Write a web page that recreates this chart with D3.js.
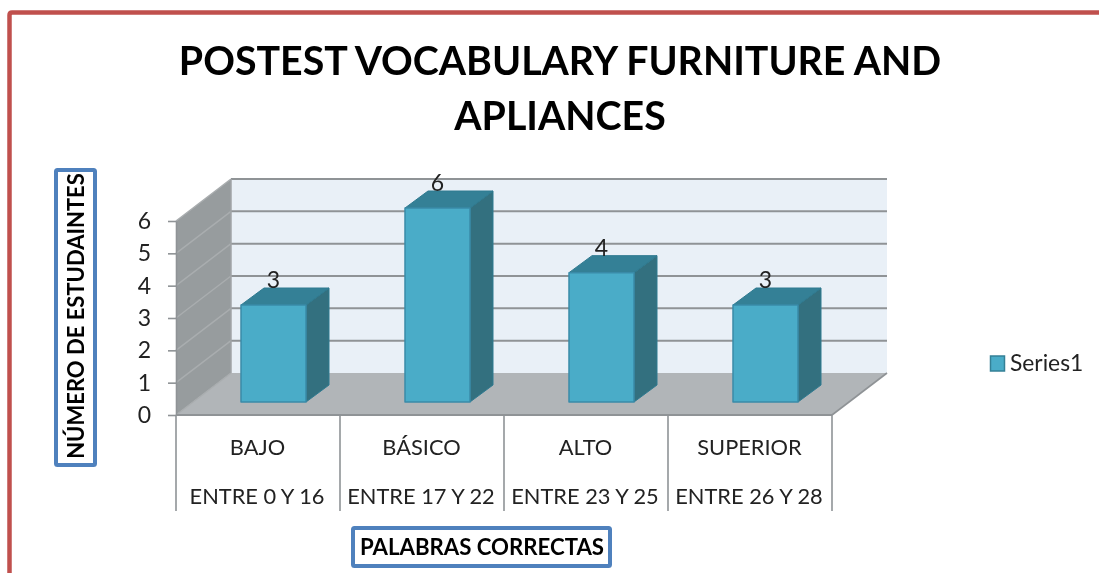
<!doctype html>
<html>
<head>
<meta charset="utf-8">
<style>
html, body { margin: 0; padding: 0; background: #fff; }
svg { display: block; font-family: Lato, "Open Sans", sans-serif; filter: blur(0.4px); }
</style>
<script src="https://d3js.org/d3.v7.min.js"></script>
</head>
<body>
<svg width="1099" height="573"></svg>
<script>
var titleLines = ["POSTEST VOCABULARY FURNITURE AND", "APLIANCES"];
var levels = ["BAJO", "BÁSICO", "ALTO", "SUPERIOR"];
var ranges = ["ENTRE 0 Y 16", "ENTRE 17 Y 22", "ENTRE 23 Y 25", "ENTRE 26 Y 28"];
var students = [3, 6, 4, 3];
var yTicks = [0, 1, 2, 3, 4, 5, 6];
var seriesName = "Series1";
var yTitle = "NÚMERO DE ESTUDAINTES";
var xTitle = "PALABRAS CORRECTAS";

var svg = d3.select("svg");

var x = d3.scaleBand().domain(levels).range([176, 832]);
var y = d3.scaleLinear().domain([0, 6]).range([415, 221]);

// depth of the 3d box, and of a bar inside it
var wallDx = 55, wallDy = -42;
var barW = 65, barDx = 23, barDy = -17;
var barOffX = 15.5, barOffY = -13;

var line = d3.line();

function poly(g, pts, fill, stroke, sw) {
  return g.append("path")
    .attr("d", line(pts) + "Z")
    .attr("fill", fill)
    .attr("stroke", stroke || "none")
    .attr("stroke-width", sw || 0)
    .attr("stroke-linejoin", "round");
}

// outer red frame
svg.append("path")
  .attr("d", "M9.5,573V15Q9.5,12.5 12,12.5H1099")
  .attr("fill", "none")
  .attr("stroke", "#c0504d")
  .attr("stroke-width", 4.5);

svg.append("g").selectAll("text")
  .data(titleLines)
  .enter().append("text")
  .attr("x", 560)
  .attr("y", function(d, i) { return 75 + i * 55; })
  .attr("text-anchor", "middle")
  .attr("font-size", 39.3)
  .attr("font-weight", 700)
  .attr("fill", "#000")
  .text(function(d) { return d; });

var x0 = x.range()[0], x1 = x.range()[1];
var walls = svg.append("g");

// back wall, floor, left wall
poly(walls, [[x0 + wallDx, y(6) + wallDy], [x1 + wallDx, y(6) + wallDy], [x1 + wallDx, y(0) + wallDy], [x0 + wallDx, y(0) + wallDy]], "#e9f0f7");
poly(walls, [[x0, y(0)], [x1, y(0)], [x1 + wallDx, y(0) + wallDy], [x0 + wallDx, y(0) + wallDy]], "#b1b5b8");
poly(walls, [[x0, y(0)], [x0, y(6)], [x0 + wallDx, y(6) + wallDy], [x0 + wallDx, y(0) + wallDy]], "#979c9e");

walls.selectAll(".grid-back")
  .data(yTicks.slice(1))
  .enter().append("line")
  .attr("x1", x0 + wallDx).attr("x2", x1 + wallDx)
  .attr("y1", function(d) { return y(d) + wallDy; })
  .attr("y2", function(d) { return y(d) + wallDy; })
  .attr("stroke", "#8f9396")
  .attr("stroke-width", 2);

walls.selectAll(".grid-left")
  .data(yTicks)
  .enter().append("line")
  .attr("x1", x0).attr("x2", x0 + wallDx)
  .attr("y1", function(d) { return y(d); })
  .attr("y2", function(d) { return y(d) + wallDy; })
  .attr("stroke", "#a9adaf")
  .attr("stroke-width", 1.5);

// edges of the floor on the right
walls.append("path")
  .attr("d", line([[x1, y(0)], [x1 + wallDx, y(0) + wallDy]]))
  .attr("stroke", "#8f9396")
  .attr("stroke-width", 1.6)
  .attr("fill", "none");
walls.append("line")
  .attr("x1", x0 + wallDx).attr("x2", x0 + wallDx)
  .attr("y1", y(6) + wallDy).attr("y2", y(0) + wallDy)
  .attr("stroke", "#a0a4a7").attr("stroke-width", 1.5);

// y axis
var yAxis = svg.append("g")
  .attr("transform", "translate(" + x0 + ",0)")
  .call(d3.axisLeft(y).tickValues(yTicks).tickFormat(d3.format("d")).tickSize(8).tickPadding(17).tickSizeOuter(0));
yAxis.select(".domain").attr("stroke", "#8f9396").attr("stroke-width", 1.6);
yAxis.selectAll("line").attr("stroke", "#8f9396").attr("stroke-width", 1.6);
yAxis.selectAll("text").attr("font-size", 23).attr("font-family", "Lato, sans-serif").attr("fill", "#222");

// x axis, two rows of labels with separators
var xAxis = svg.append("g");
xAxis.append("line")
  .attr("x1", x0).attr("x2", x1)
  .attr("y1", y(0)).attr("y2", y(0))
  .attr("stroke", "#8f9396").attr("stroke-width", 2);
xAxis.selectAll(".sep")
  .data(levels.concat(["end"]))
  .enter().append("line")
  .attr("x1", function(d, i) { return x0 + i * x.bandwidth(); })
  .attr("x2", function(d, i) { return x0 + i * x.bandwidth(); })
  .attr("y1", y(0))
  .attr("y2", 511)
  .attr("stroke", "#8f9396")
  .attr("stroke-width", 1.6);
xAxis.selectAll(".lvl")
  .data(levels)
  .enter().append("text")
  .attr("x", function(d) { return x(d) + x.bandwidth() / 2 - 0.5; })
  .attr("y", 455)
  .attr("text-anchor", "middle")
  .attr("font-size", 21.8)
  .attr("fill", "#222")
  .text(function(d) { return d; });
xAxis.selectAll(".rng")
  .data(ranges)
  .enter().append("text")
  .attr("x", function(d, i) { return x(levels[i]) + x.bandwidth() / 2 - 1; })
  .attr("y", 504)
  .attr("text-anchor", "middle")
  .attr("font-size", 21.8)
  .attr("fill", "#222")
  .text(function(d) { return d; });

// bars
var bars = svg.append("g");
students.forEach(function(v, i) {
  var cx = x(levels[i]) + x.bandwidth() / 2 + barOffX;
  var l = cx - barW / 2, r = cx + barW / 2;
  var b = y(0) + barOffY, t = y(v) + barOffY;
  var g = bars.append("g");
  poly(g, [[r, t], [r + barDx, t + barDy], [r + barDx, b + barDy], [r, b]], "#33707f", "#2f7a90", 1);
  poly(g, [[l, t], [l + barDx, t + barDy], [r + barDx, t + barDy], [r, t]], "#348096", "#2f7a90", 1);
  poly(g, [[l, t], [r, t], [r, b], [l, b]], "#4aacc8", "#3a8ba8", 1.5);
  g.append("text")
    .attr("x", cx)
    .attr("y", t - 17)
    .attr("text-anchor", "middle")
    .attr("font-size", 23)
    .attr("fill", "#222")
    .text(v);
});

// legend
svg.append("rect")
  .attr("x", 990.5).attr("y", 356).attr("width", 14).attr("height", 15)
  .attr("fill", "#4aacc8").attr("stroke", "#348096").attr("stroke-width", 1.5);
svg.append("text")
  .attr("x", 1010).attr("y", 371)
  .attr("font-size", 22.8)
  .attr("fill", "#222")
  .text(seriesName);

// axis title boxes
svg.append("rect")
  .attr("x", 56).attr("y", 170).attr("width", 39).attr("height", 295).attr("rx", 1.5)
  .attr("fill", "#fff").attr("stroke", "#4f81bd").attr("stroke-width", 4);
svg.append("text")
  .attr("transform", "translate(84,316) rotate(-90)")
  .attr("text-anchor", "middle")
  .attr("font-size", 22)
  .attr("font-weight", 700)
  .attr("fill", "#000")
  .text(yTitle);

svg.append("rect")
  .attr("x", 353).attr("y", 528).attr("width", 257).attr("height", 38).attr("rx", 1.5)
  .attr("fill", "#fff").attr("stroke", "#4f81bd").attr("stroke-width", 4);
svg.append("text")
  .attr("x", 482).attr("y", 555)
  .attr("text-anchor", "middle")
  .attr("font-size", 22.2)
  .attr("font-weight", 700)
  .attr("fill", "#000")
  .text(xTitle);
</script>
</body>
</html>
